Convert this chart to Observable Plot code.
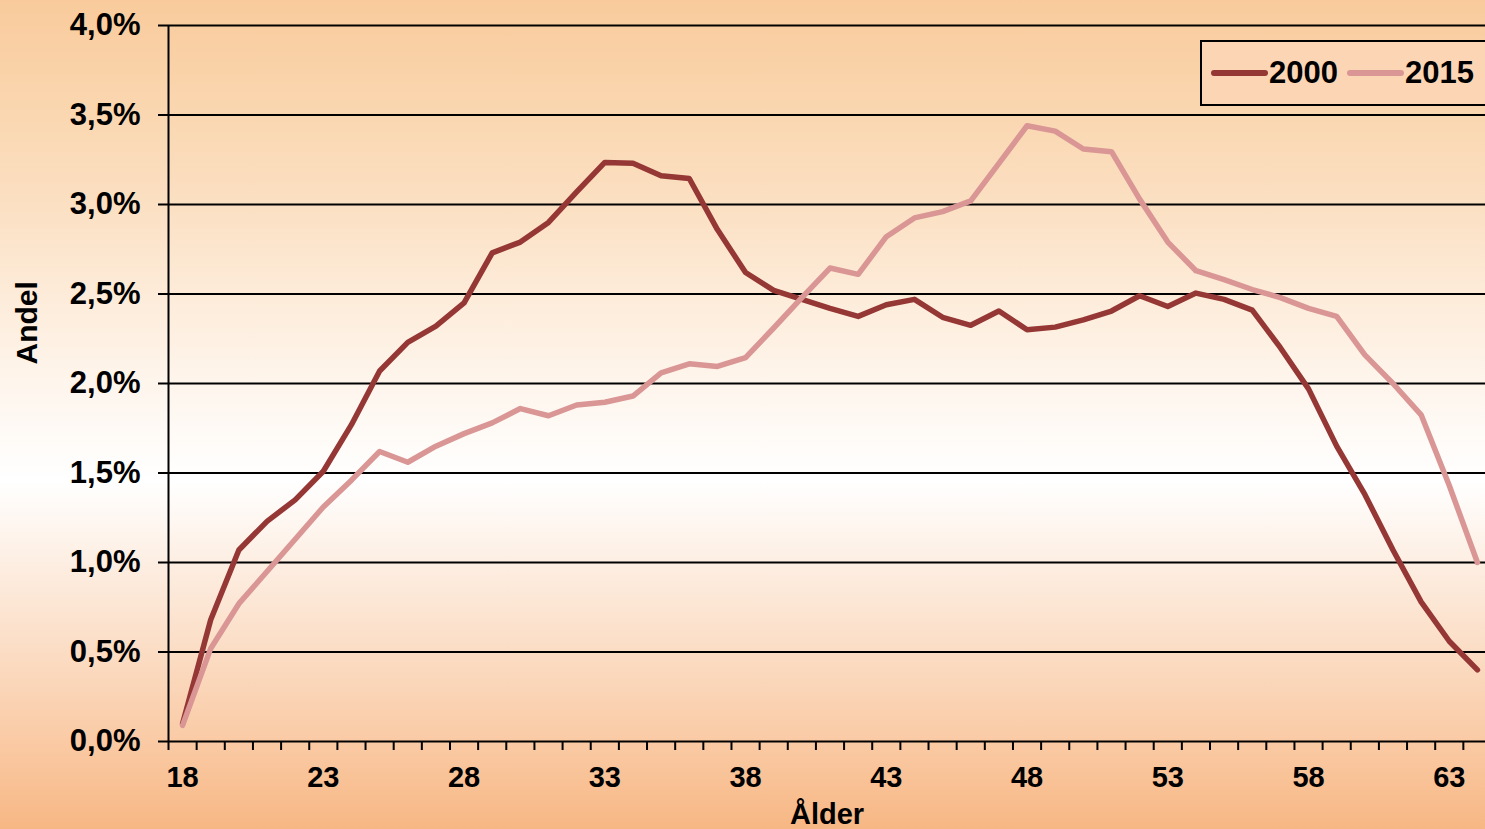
<!DOCTYPE html>
<html>
<head>
<meta charset="utf-8">
<script src="https://cdn.jsdelivr.net/npm/d3@7"></script>
<script src="https://cdn.jsdelivr.net/npm/@observablehq/plot@0.6"></script>
<style>
  html, body { margin: 0; padding: 0; overflow: hidden; }
  #wrap {
    position: relative; width: 1485px; height: 829px; overflow: hidden;
    background: linear-gradient(to bottom,
      #F9CB9C 0%, #FAD7B1 14%, #FBE0C3 25%, #FDEBD8 35%, #FEF5EC 46%,
      #FFFFFF 58%, #FDEEE2 68%, #FBDCC3 79%, #FACBA6 89%, #F7B784 100%);
    font-family: "Liberation Sans", Arial, sans-serif;
  }
  #legend {
    position: absolute; left: 1200px; top: 40px; width: 300px; height: 66px;
    border: 2px solid #000; background: #FBD5B4; box-sizing: border-box;
    display: flex; align-items: center; font-weight: bold; font-size: 31px; color: #000;
  }
  #legend .sw { display: inline-block; width: 57px; height: 6px; border-radius: 3px; margin-left: 9px; margin-right: 1px; }
  #legend .lab { display: inline-block; }
</style>
</head>
<body>
<div id="wrap"></div>
<script>
const ages = d3.range(18, 65);
const series = ["2000", "2015"];
const seriesColors = ["#953735", "#D99694"];
const share2000 = [0.10, 0.68, 1.07, 1.23, 1.35, 1.51, 1.77, 2.07, 2.23, 2.32,
  2.45, 2.73, 2.79, 2.90, 3.07, 3.235, 3.23, 3.16, 3.145, 2.86,
  2.62, 2.52, 2.47, 2.42, 2.375, 2.44, 2.47, 2.37, 2.325, 2.405,
  2.30, 2.315, 2.355, 2.405, 2.49, 2.43, 2.505, 2.47, 2.41, 2.20,
  1.97, 1.65, 1.38, 1.07, 0.78, 0.56, 0.40];
const share2015 = [0.09, 0.52, 0.77, 0.95, 1.13, 1.31, 1.46, 1.62, 1.56, 1.65,
  1.72, 1.78, 1.86, 1.82, 1.88, 1.895, 1.93, 2.06, 2.11, 2.095,
  2.145, 2.31, 2.48, 2.645, 2.61, 2.82, 2.925, 2.96, 3.02, 3.23,
  3.44, 3.41, 3.31, 3.295, 3.03, 2.79, 2.63, 2.58, 2.525, 2.48,
  2.42, 2.375, 2.16, 2.00, 1.825, 1.43, 1.00];
const yTicks = [0, 0.5, 1, 1.5, 2, 2.5, 3, 3.5, 4];
const xLabelTicks = [18, 23, 28, 33, 38, 43, 48, 53, 58, 63];
const xBoundaries = d3.range(17.5, 65, 1);

const data = [];
ages.forEach((a, i) => {
  data.push({age: a, value: share2000[i], series: series[0]});
  data.push({age: a, value: share2015[i], series: series[1]});
});

const fmtPct = d => d.toFixed(1).replace(".", ",") + "%";

const chart = Plot.plot({
  width: 1485,
  height: 829,
  marginLeft: 168,
  marginTop: 25,
  marginBottom: 88,
  marginRight: 0,
  style: {background: "transparent", fontFamily: "'Liberation Sans', Arial, sans-serif", fontSize: "29px", fontWeight: "bold", color: "#000", overflow: "hidden"},
  x: {domain: [17.5, 64.5], range: [168, 1491]},
  y: {domain: [0, 4]},
  color: {domain: series, range: seriesColors},
  marks: [
    Plot.ruleY(yTicks, {stroke: "#000", strokeWidth: 2}),
    Plot.ruleX([17.5], {y1: 0, y2: 4, stroke: "#000", strokeWidth: 2}),
    Plot.axisY({ticks: yTicks, tickSize: 10, tickPadding: 18, tickFormat: fmtPct, strokeWidth: 2, fontSize: 31, label: null}),
    Plot.axisX({ticks: xBoundaries, tickSize: 9, tickFormat: () => "", strokeWidth: 2, label: null}),
    Plot.axisX({ticks: xLabelTicks, tickSize: 0, tickPadding: 25, tickFormat: d => String(d), label: "Ålder", labelAnchor: "center", labelArrow: "none", labelOffset: 82}),
    Plot.text(["Andel"], {frameAnchor: "left", rotate: -90, dx: -141, dy: -19, fontSize: 30, fontWeight: "bold", text: d => d}),
    Plot.line(data, {x: "age", y: "value", z: "series", stroke: "series", strokeWidth: 5.5, strokeLinecap: "round", strokeLinejoin: "round"})
  ]
});

const wrap = document.getElementById("wrap");
wrap.appendChild(chart);
const leg = document.createElement("div");
leg.id = "legend";
series.forEach((s, i) => {
  const sw = document.createElement("span");
  sw.className = "sw";
  sw.style.background = seriesColors[i];
  const lab = document.createElement("span");
  lab.className = "lab";
  lab.textContent = s;
  leg.appendChild(sw);
  leg.appendChild(lab);
});
wrap.appendChild(leg);
</script>
</body>
</html>
